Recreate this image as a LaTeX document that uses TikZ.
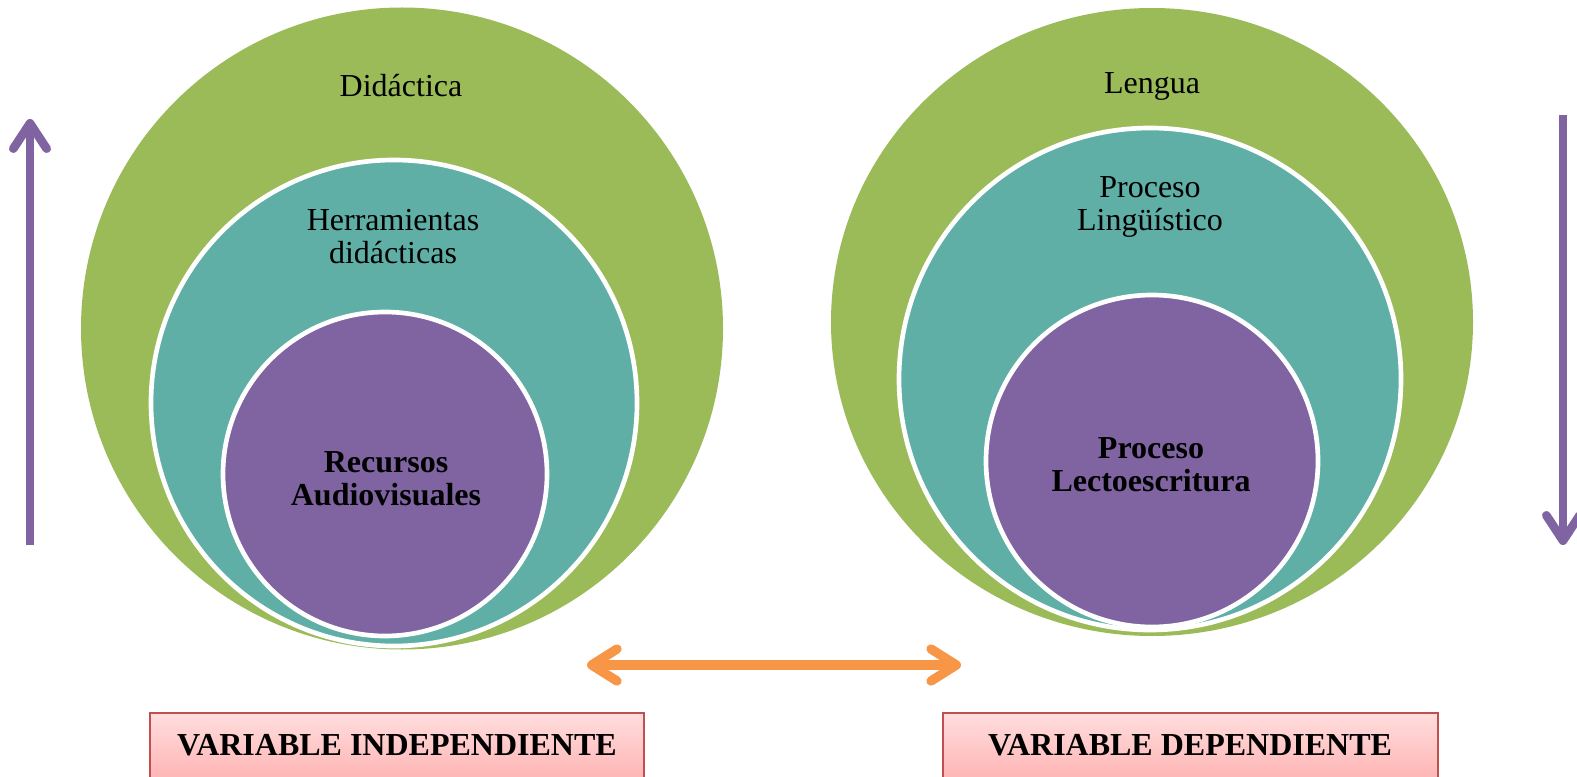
\documentclass[tikz,border=0pt]{standalone}
\usepackage{fontspec}
\setmainfont{Liberation Serif}
\usepackage{tikz}
\usetikzlibrary{arrows.meta}
\definecolor{verde}{HTML}{9BBB59}
\definecolor{turquesa}{HTML}{5FAFA7}
\definecolor{violeta}{HTML}{8064A2}
\definecolor{naranja}{HTML}{F79646}
\definecolor{rojo}{HTML}{C0504D}
\definecolor{rosaclaro}{HTML}{FFDDDD}
\definecolor{rosa}{HTML}{FFA8A8}
\tikzset{
  anillo/.style={draw=white, line width=3.5pt},
  rotulo/.style={align=center, font=\fontsize{24}{24.75}\selectfont},
  rotulob/.style={rotulo, font=\fontsize{24}{24.75}\selectfont\bfseries},
  flechav/.style={draw=violeta, line width=6.5pt, -{Straight Barb[length=19pt,width=25pt,round]}},
  flechan/.style={draw=naranja, line width=7pt, {Straight Barb[length=19pt,width=24pt,round]}-{Straight Barb[length=19pt,width=24pt,round]}},
  caja/.style={draw=rojo, line width=1.5pt, top color=rosaclaro, bottom color=rosa}
}
\begin{document}
\begin{tikzpicture}[x=0.75pt,y=-0.75pt]
  \useasboundingbox (0,0) rectangle (1577,777);
  % left set
  \fill[verde] (402,328.5) circle (321);
  \filldraw[anillo, fill=turquesa] (394,403) circle (243);
  \filldraw[anillo, fill=violeta] (385,474) circle (162);
  \node[rotulo] (didactica) at (401,86) {Didáctica};
  \node[rotulo] (herramientas) at (393,237) {Herramientas\\didácticas};
  \node[rotulob] (recursos) at (386,479) {Recursos\\Audiovisuales};
  % right set
  \fill[verde] (1152,322) ellipse [x radius=321, y radius=314];
  \filldraw[anillo, fill=turquesa] (1150,379) circle (251);
  \filldraw[anillo, fill=violeta] (1152,461) circle (166);
  \node[rotulo] (lengua) at (1152,86) {Lengua};
  \node[rotulo] (linguistico) at (1150,207) {Proceso\\Lingüístico};
  \node[rotulob] (lectoescritura) at (1151,465) {Proceso\\Lectoescritura};
  % arrows
  \coordinate (subeA) at (30,545);
  \coordinate (subeB) at (30,119);
  \coordinate (bajaA) at (1563,115);
  \coordinate (bajaB) at (1563,545);
  \draw[flechav] (subeA) -- (subeB);
  \draw[flechav] (bajaA) -- (bajaB);
  \coordinate (izq) at (587,665);
  \coordinate (der) at (961,665);
  \draw[flechan] (izq) -- (der);
  % variables
  \shade[caja] (150,713) rectangle (644,800);
  \shade[caja] (943,713) rectangle (1438,800);
  \node[rotulob] (independiente) at (397,745) {VARIABLE INDEPENDIENTE};
  \node[rotulob] (dependiente) at (1190,745) {VARIABLE DEPENDIENTE};
\end{tikzpicture}
\end{document}
